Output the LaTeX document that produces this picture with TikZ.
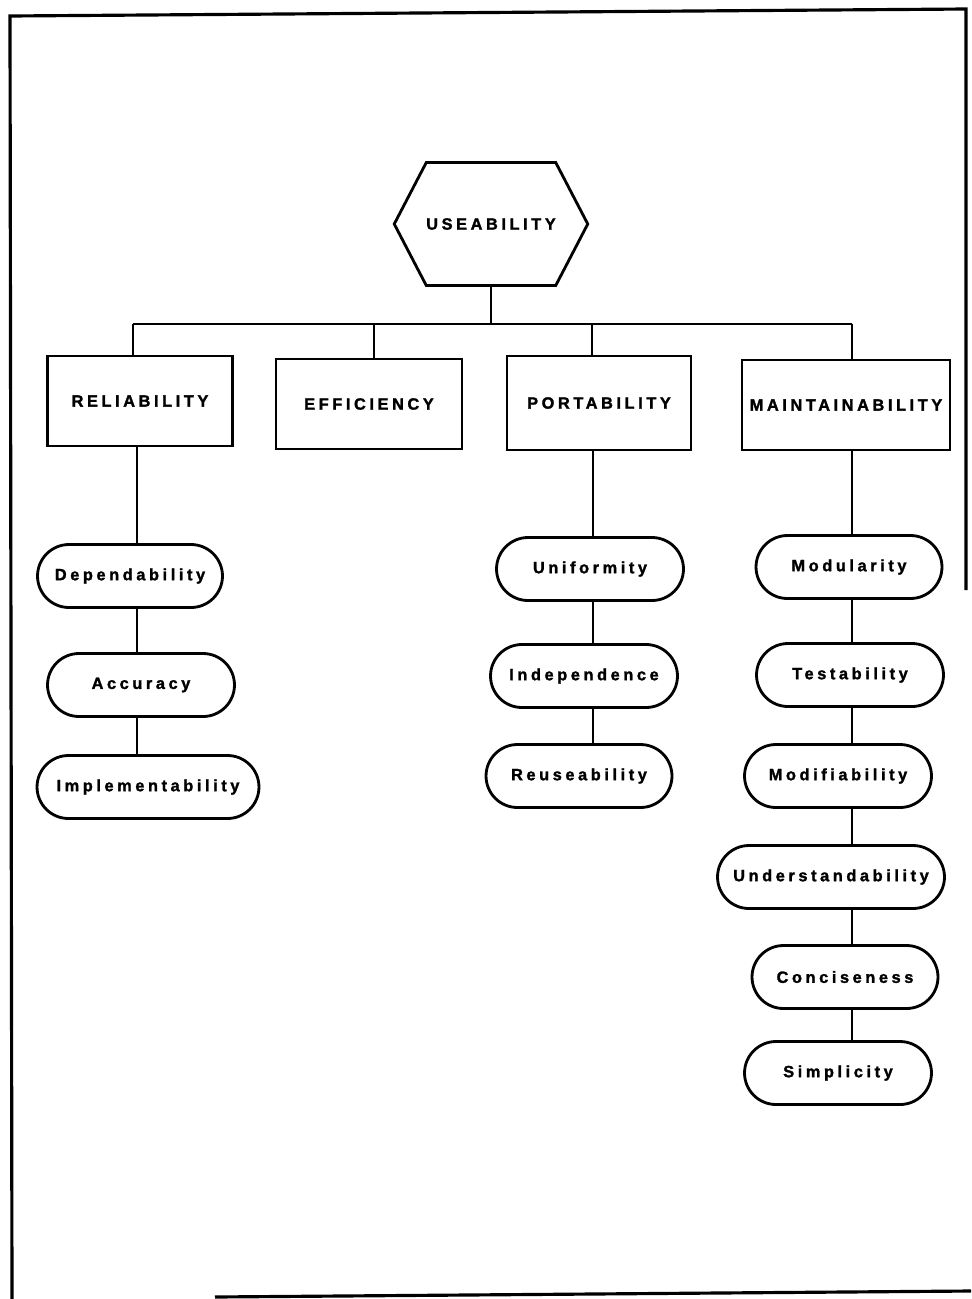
\documentclass[tikz,border=0pt]{standalone}
\usepackage{fontspec}
\newfontfamily\chartfont[LetterSpace=22, BoldFont={Liberation Sans Bold},
  BoldFeatures={FakeBold=1.6}]{Liberation Sans}
\usepackage{tikz}
\usetikzlibrary{shapes.symbols,shapes.misc}
\tikzset{
  hexnode/.style={signal, signal to=east and west, signal pointer angle=125,
                  draw, line width=1.6pt, minimum width=3.72cm, minimum height=2.46cm,
                  inner sep=0pt, font=\chartfont\bfseries\fontsize{9.3}{11}\selectfont},
  box/.style={draw, line width=1.6pt, minimum height=1.8cm, inner sep=0pt,
              font=\chartfont\bfseries\fontsize{9.3}{11}\selectfont},
  pill/.style={rounded rectangle, draw, line width=1.6pt, minimum height=1.26cm,
               minimum width=3.74cm, inner sep=0pt,
               font=\chartfont\bfseries\fontsize{9.3}{11}\selectfont},
  link/.style={line width=1.6pt},
  frame/.style={line width=1.8pt},
}
\begin{document}
\begin{tikzpicture}[x=0.02cm, y=-0.02cm]
  \useasboundingbox (0,0) rectangle (971,1299);
  % page frame
  \draw[frame] (12,1299) -- (10,16) -- (966,9) -- (966,590);
  \draw[frame] (215,1297) -- (971,1291);
  % top level
  \node[hexnode] (use) at (491,224) {USEABILITY};
  % factors
  \node[box, minimum width=3.7cm] (rel) at (140,401) {RELIABILITY};
  \node[box, minimum width=3.72cm] (eff) at (369,404) {EFFICIENCY};
  \node[box, minimum width=3.68cm, minimum height=1.88cm] (por) at (599,403) {PORTABILITY};
  \node[box, minimum width=4.16cm] (mai) at (846,405) {MAINTAINABILITY};
  % bus
  \coordinate (busL) at (133,324);
  \coordinate (busE) at (374,324);
  \coordinate (busP) at (592,324);
  \coordinate (busR) at (852,324);
  \draw[link] (use.south) -- (use.south |- busL);
  \draw[link] (busL) -- (busR);
  \draw[link] (busL) -- (busL |- rel.north);
  \draw[link] (busE) -- (busE |- eff.north);
  \draw[link] (busP) -- (busP |- por.north);
  \draw[link] (busR) -- (busR |- mai.north);
  % criteria under reliability
  \node[pill, minimum width=3.7cm] (dep) at (130,576) {Dependability};
  \node[pill] (acc) at (141,685) {Accuracy};
  \node[pill, minimum width=4.44cm] (imp) at (148,787) {Implementability};
  % criteria under portability
  \node[pill] (uni) at (590,569) {Uniformity};
  \node[pill] (ind) at (584,676) {Independence};
  \node[pill, minimum width=3.72cm] (reu) at (579,776) {Reuseability};
  % criteria under maintainability
  \node[pill, minimum width=3.72cm] (mod) at (849,567) {Modularity};
  \node[pill] (tes) at (850,675) {Testability};
  \node[pill] (mfy) at (838,776) {Modifiability};
  \node[pill, minimum width=4.54cm] (und) at (831,877) {Understandability};
  \node[pill, minimum width=3.72cm] (con) at (845,977) {Conciseness};
  \node[pill] (sim) at (838,1073) {Simplicity};
  % column links
  \coordinate (colR) at (137,0);
  \coordinate (colP) at (593,0);
  \coordinate (colM) at (852,0);
  \foreach \a/\b in {rel/dep, dep/acc, acc/imp}
    \draw[link] (colR |- \a.south) -- (colR |- \b.north);
  \foreach \a/\b in {por/uni, uni/ind, ind/reu}
    \draw[link] (colP |- \a.south) -- (colP |- \b.north);
  \foreach \a/\b in {mai/mod, mod/tes, tes/mfy, mfy/und, und/con, con/sim}
    \draw[link] (colM |- \a.south) -- (colM |- \b.north);
\end{tikzpicture}
\end{document}
